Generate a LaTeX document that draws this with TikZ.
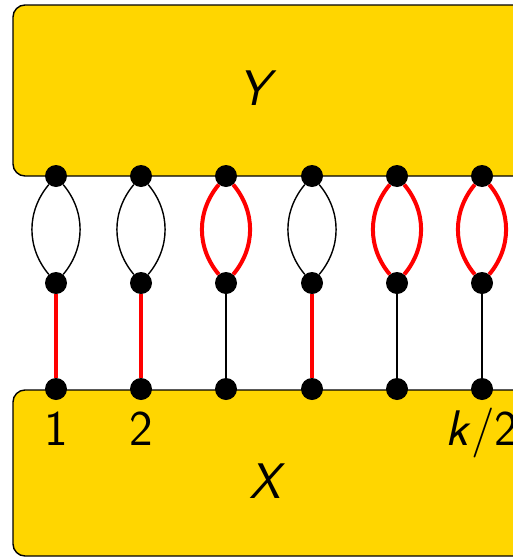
\documentclass[tikz,border=0pt]{standalone}
\usepackage{fontspec}
\definecolor{gold}{RGB}{255,214,0}
\tikzset{dot/.style={circle, fill=black, inner sep=0pt, minimum size=22pt},
  hot/.style={red, line width=4pt},
  plain/.style={black, line width=1.4pt},
  block/.style={fill=gold, draw=black, line width=1.4pt, rounded corners=12pt}}

\begin{document}
\begin{tikzpicture}[x=1pt, y=-1pt, font=\sffamily\fontsize{50}{52}\selectfont]
            \useasboundingbox (0,0) rectangle (513,557);
            \clip (0,0) rectangle (513,557);
            \draw[block] (13,5) rectangle (580,176);
            \draw[block] (13,390) rectangle (580,556);
            \node[anchor=base] (Y) at (258,105) {\textit{Y}};
            \node[anchor=base] (X) at (267,498) {\textit{X}};
            \foreach \i/\x in {1/56,2/141,3/226,4/312,5/397,6/482} {
              \node[dot] (t\i) at (\x,176) {};
              \node[dot] (m\i) at (\x,283) {};
              \node[dot] (b\i) at (\x,389) {};
            }
            % Black lenses, red stems
            \foreach \i in {1,2,4} {
              \draw[plain] (t\i) to[bend right=40] (m\i) (t\i) to[bend left=40] (m\i);
              \draw[hot] (m\i) -- (b\i);
            }
            % Red lenses, black stems
            \foreach \i in {3,5,6} {
              \draw[hot] (t\i) to[bend right=40] (m\i) (t\i) to[bend left=40] (m\i);
              \draw[plain] (m\i) -- (b\i);
            }
            \node[anchor=base] (l1) at (56,445) {1};
            \node[anchor=base] (l2) at (141,445) {2};
            \node[anchor=base] (lk) at (482,445) {\textit{k}/2};
        \end{tikzpicture}
\end{document}
